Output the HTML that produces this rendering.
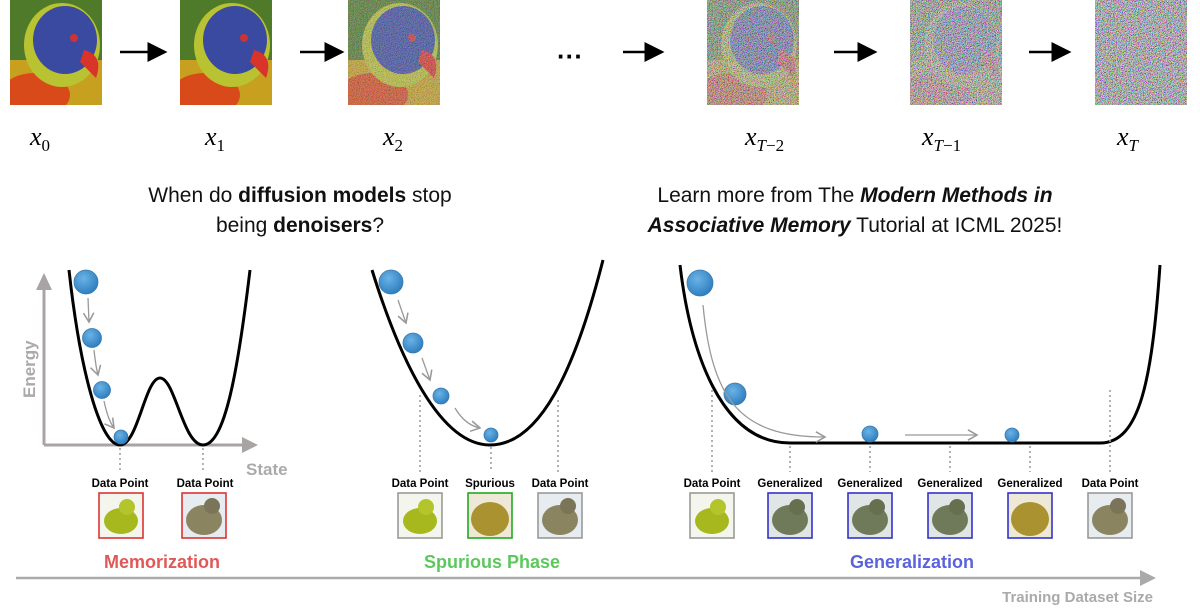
<!DOCTYPE html>
<html><head><meta charset="utf-8"><style>
body{margin:0;background:#fff;width:1200px;height:608px;overflow:hidden;font-family:"Liberation Sans",sans-serif}
</style></head><body>
<svg width="1200" height="608" viewBox="0 0 1200 608" xmlns="http://www.w3.org/2000/svg">
<defs>
<marker id="ah" markerWidth="8" markerHeight="8" refX="7" refY="4" orient="auto"><path d="M0,0 L8,4 L0,8 z" fill="#000"/></marker>
<marker id="ga" markerWidth="10" markerHeight="10" refX="8" refY="5" orient="auto"><path d="M1,1 L8,5 L1,9" fill="none" stroke="#999" stroke-width="1.2"/></marker>
<radialGradient id="ball" cx="40%" cy="35%" r="65%"><stop offset="0" stop-color="#6bb3e6"/><stop offset="1" stop-color="#2f7fc0"/></radialGradient>
<filter id="n" x="0" y="0" width="1" height="1"><feTurbulence type="fractalNoise" baseFrequency="1.2" numOctaves="1" seed="3"/><feColorMatrix type="matrix" values="2.4 0 0 0 -0.75  0 2.4 0 0 -0.75  0 0 2.4 0 -0.72  0 0 0 0 1"/></filter>
<g id="parrot">
<rect width="92" height="105" fill="#4f7a2a"/>
<rect x="0" y="60" width="92" height="45" fill="#c8a020"/>
<ellipse cx="25" cy="95" rx="35" ry="22" fill="#d84a1a"/>
<ellipse cx="52" cy="45" rx="38" ry="42" fill="#b9c230"/>
<ellipse cx="55" cy="40" rx="32" ry="34" fill="#3a4aa0"/>
<path d="M74,50 Q94,55 86,78 Q78,70 70,62z" fill="#d8342a"/>
<circle cx="64" cy="38" r="4" fill="#c33"/>
</g>
<g id="frog1"><rect width="44" height="45" fill="#f4f6ee"/><ellipse cx="22" cy="28" rx="17" ry="13" fill="#a7b81e"/><circle cx="28" cy="14" r="8" fill="#b3c52a"/></g>
<g id="frog2"><rect width="44" height="45" fill="#e6ecef"/><ellipse cx="22" cy="27" rx="18" ry="15" fill="#8a8460"/><circle cx="30" cy="13" r="8" fill="#7a7558"/></g>
<g id="frog3"><rect width="44" height="45" fill="#eee8d6"/><ellipse cx="22" cy="26" rx="19" ry="17" fill="#a9922f"/></g>
<g id="frogg"><rect width="44" height="45" fill="#e0e6e6"/><ellipse cx="22" cy="27" rx="18" ry="15" fill="#6f7a5a"/><circle cx="29" cy="14" r="8" fill="#66704f"/></g>
</defs>

<!-- top row -->
<svg x="10" y="0" width="92" height="105"><use href="#parrot"/></svg>
<svg x="180" y="0" width="92" height="105"><use href="#parrot"/></svg>
<svg x="348" y="0" width="92" height="105"><use href="#parrot"/><rect width="92" height="105" filter="url(#n)" opacity="0.35"/></svg>
<svg x="707" y="0" width="92" height="105"><use href="#parrot"/><rect width="92" height="105" filter="url(#n)" opacity="0.72"/></svg>
<svg x="910" y="0" width="92" height="105"><use href="#parrot"/><rect width="92" height="105" filter="url(#n)" opacity="0.88"/></svg>
<svg x="1095" y="0" width="92" height="105"><rect width="92" height="105" fill="#7a7a80"/><rect width="92" height="105" filter="url(#n)" opacity="0.95"/></svg>
<g stroke="#000" stroke-width="2.5" marker-end="url(#ah)">
<line x1="120" y1="52" x2="165" y2="52"/><line x1="300" y1="52" x2="342" y2="52"/>
<line x1="623" y1="52" x2="662" y2="52"/><line x1="834" y1="52" x2="875" y2="52"/><line x1="1029" y1="52" x2="1069" y2="52"/>
</g>
<text x="570" y="65" font-size="26" text-anchor="middle" font-weight="bold">···</text>
<g font-family="Liberation Serif,serif" font-style="italic" font-size="26">
<text x="30" y="145">x<tspan font-style="normal" font-size="17" dy="6">0</tspan></text>
<text x="205" y="145">x<tspan font-style="normal" font-size="17" dy="6">1</tspan></text>
<text x="383" y="145">x<tspan font-style="normal" font-size="17" dy="6">2</tspan></text>
<text x="745" y="145">x<tspan font-size="17" dy="6">T</tspan><tspan font-style="normal" font-size="17">−2</tspan></text>
<text x="922" y="145">x<tspan font-size="17" dy="6">T</tspan><tspan font-style="normal" font-size="17">−1</tspan></text>
<text x="1117" y="145">x<tspan font-size="17" dy="6">T</tspan></text>
</g>
<g font-size="21" text-anchor="middle" fill="#111">
<text x="300" y="202">When do <tspan font-weight="bold">diffusion models</tspan> stop</text>
<text x="300" y="232">being <tspan font-weight="bold">denoisers</tspan>?</text>
<text x="855" y="202">Learn more from The <tspan font-weight="bold" font-style="italic">Modern Methods in</tspan></text>
<text x="855" y="232"><tspan font-weight="bold" font-style="italic">Associative Memory</tspan> Tutorial at ICML 2025!</text>
</g>

<!-- Memorization -->
<g stroke="#a9a4a4" stroke-width="3" fill="none"><path d="M44,445 L44,285"/><path d="M44,445 L245,445"/></g>
<path d="M36,290 L44,273 L52,290z" fill="#a9a4a4"/><path d="M242,437 L258,445 L242,453z" fill="#a9a4a4"/>
<text transform="translate(35,398) rotate(-90)" font-size="17" font-weight="bold" fill="#aaa">Energy</text>
<text x="246" y="475" font-size="17" font-weight="bold" fill="#aaa">State</text>
<path d="M69,270 C80,370 100,445 120,445 C138,445 145,378 160,378 C175,378 183,445 203,445 C225,445 238,370 250,270" fill="none" stroke="#000" stroke-width="3"/>
<g fill="url(#ball)" stroke="#3a7ab0" stroke-width="0.8">
<circle cx="86" cy="282" r="12"/><circle cx="92" cy="338" r="9.5"/><circle cx="102" cy="390" r="8.5"/><circle cx="121" cy="437" r="7"/></g>
<g stroke="#999" stroke-width="1.3" fill="none" marker-end="url(#ga)"><path d="M88,298 L89,322"/><path d="M94,350 Q96,368 98,375"/><path d="M104,401 Q108,420 114,428"/></g>

<!-- Spurious -->
<path d="M372,270 C400,360 440,445 490,445 C540,445 575,370 603,260" fill="none" stroke="#000" stroke-width="3"/>
<g fill="url(#ball)" stroke="#3a7ab0" stroke-width="0.8">
<circle cx="391" cy="282" r="12"/><circle cx="413" cy="343" r="10"/><circle cx="441" cy="396" r="8"/><circle cx="491" cy="435" r="7"/></g>
<g stroke="#999" stroke-width="1.3" fill="none" marker-end="url(#ga)"><path d="M398,300 L406,323"/><path d="M422,358 L430,380"/><path d="M455,408 Q465,425 480,428"/></g>

<!-- Generalization -->
<path d="M680,265 C690,350 720,443 790,443 L1100,443 C1140,443 1152,380 1160,265" fill="none" stroke="#000" stroke-width="3"/>
<g fill="url(#ball)" stroke="#3a7ab0" stroke-width="0.8">
<circle cx="700" cy="283" r="13"/><circle cx="735" cy="394" r="11"/><circle cx="870" cy="434" r="8"/><circle cx="1012" cy="435" r="7"/></g>
<g stroke="#999" stroke-width="1.3" fill="none" marker-end="url(#ga)"><path d="M703,305 C712,400 740,437 825,437"/><path d="M905,435 L977,435"/></g>

<!-- dotted lines -->
<g stroke="#999" stroke-width="1.5" stroke-dasharray="2,3">
<line x1="120" y1="448" x2="120" y2="472"/><line x1="203" y1="448" x2="203" y2="472"/>
<line x1="420" y1="395" x2="420" y2="472"/><line x1="491" y1="447" x2="491" y2="472"/><line x1="558" y1="400" x2="558" y2="472"/>
<line x1="712" y1="390" x2="712" y2="472"/><line x1="790" y1="446" x2="790" y2="472"/><line x1="870" y1="446" x2="870" y2="472"/><line x1="950" y1="446" x2="950" y2="472"/><line x1="1030" y1="446" x2="1030" y2="472"/><line x1="1110" y1="390" x2="1110" y2="472"/>
</g>
<g font-size="11.5" font-weight="bold" text-anchor="middle">
<text x="120" y="487">Data Point</text><text x="205" y="487">Data Point</text>
<text x="420" y="487">Data Point</text><text x="490" y="487">Spurious</text><text x="560" y="487">Data Point</text>
<text x="712" y="487">Data Point</text><text x="790" y="487">Generalized</text><text x="870" y="487">Generalized</text><text x="950" y="487">Generalized</text><text x="1030" y="487">Generalized</text><text x="1110" y="487">Data Point</text>
</g>
<use href="#frog1" x="99" y="493"/><use href="#frog2" x="182" y="493"/>
<use href="#frog1" x="398" y="493"/><use href="#frog3" x="468" y="493"/><use href="#frog2" x="538" y="493"/>
<use href="#frog1" x="690" y="493"/><use href="#frogg" x="768" y="493"/><use href="#frogg" x="848" y="493"/><use href="#frogg" x="928" y="493"/><use href="#frog3" x="1008" y="493"/><use href="#frog2" x="1088" y="493"/>
<g fill="none" stroke-width="1.6">
<rect x="99" y="493" width="44" height="45" stroke="#d33"/><rect x="182" y="493" width="44" height="45" stroke="#d33"/>
<rect x="398" y="493" width="44" height="45" stroke="#999"/><rect x="468" y="493" width="44" height="45" stroke="#2a2"/><rect x="538" y="493" width="44" height="45" stroke="#999"/>
<rect x="690" y="493" width="44" height="45" stroke="#999"/><rect x="768" y="493" width="44" height="45" stroke="#33c"/><rect x="848" y="493" width="44" height="45" stroke="#33c"/><rect x="928" y="493" width="44" height="45" stroke="#33c"/><rect x="1008" y="493" width="44" height="45" stroke="#33c"/><rect x="1088" y="493" width="44" height="45" stroke="#999"/>
</g>
<g font-size="18" font-weight="bold" text-anchor="middle">
<text x="162" y="568" fill="#e05858">Memorization</text>
<text x="492" y="568" fill="#5cc85c">Spurious Phase</text>
<text x="912" y="568" fill="#5a62dd">Generalization</text>
</g>
<line x1="16" y1="578" x2="1142" y2="578" stroke="#aaa" stroke-width="2.5"/>
<path d="M1140,570 L1156,578 L1140,586z" fill="#aaa"/>
<text x="1153" y="602" font-size="15" font-weight="bold" fill="#aaa" text-anchor="end">Training Dataset Size</text>
</svg>
</body></html>
